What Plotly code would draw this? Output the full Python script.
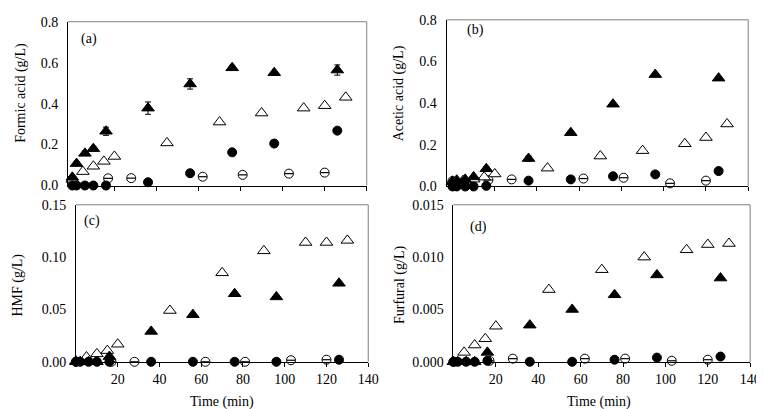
import plotly.graph_objects as go

W, H = 764, 409

# ---- data ----
t_ft = [0, 2, 6, 10, 16, 36, 56, 76, 96, 126]           # filled triangles
t_ot = [0, 5, 10, 15, 20, 45, 70, 90, 110, 120, 130]    # open triangles
t_fc = [0, 2, 6, 10, 16, 36, 56, 76, 96, 126]           # filled circles
t_oc = [0, 17, 28, 62, 81, 103, 120]                    # open circles

formic_ft = [0.04, 0.107, 0.157, 0.18, 0.265, 0.378, 0.496, 0.575, 0.551, 0.564]
formic_ft_err = [0.0, 0.01, 0.01, 0.01, 0.02, 0.03, 0.025, 0.012, 0.006, 0.025]
formic_ot = [0.03, 0.068, 0.094, 0.118, 0.142, 0.208, 0.31, 0.354, 0.378, 0.39, 0.431]
formic_fc = [0.0, 0.0, 0.0, 0.0, 0.0, 0.016, 0.06, 0.162, 0.205, 0.268]
formic_oc = [0.031, 0.035, 0.036, 0.043, 0.052, 0.058, 0.063]

acetic_ft = [0.023, 0.03, 0.034, 0.046, 0.085, 0.134, 0.258, 0.395, 0.537, 0.52]
acetic_ft_err = [0.0, 0.0, 0.0, 0.0, 0.01, 0.012, 0.008, 0.006, 0.006, 0.008]
acetic_ot = [0.025, 0.028, 0.035, 0.045, 0.06, 0.088, 0.146, 0.172, 0.205, 0.235, 0.30]
acetic_fc = [0.0, 0.0, 0.0, 0.0, 0.003, 0.028, 0.034, 0.049, 0.058, 0.074]
acetic_oc = [0.026, 0.031, 0.034, 0.038, 0.042, 0.015, 0.028]

hmf_ft = [0.0, 0.0, 0.0, 0.0, 0.005, 0.029, 0.045, 0.065, 0.062, 0.075]
hmf_ot = [0.0006, 0.0046, 0.0076, 0.0107, 0.0168, 0.049, 0.085, 0.106, 0.114, 0.114, 0.116]
hmf_fc = [0.0, 0.0, 0.0, 0.0, 0.0, 0.0, 0.0, 0.0, 0.0, 0.002]
hmf_oc = [0.0, 0.0, 0.0, 0.0, 0.0, 0.0015, 0.002]

furfural_ft = [0.0, 0.0, 0.0, 0.0, 0.0009, 0.0035, 0.005, 0.0064, 0.0083, 0.008]
furfural_ot = [0.0, 0.0009, 0.0016, 0.0022, 0.0034, 0.0069, 0.0088, 0.0100, 0.0107, 0.0112, 0.0113]
furfural_fc = [0.0, 0.0, 0.0, 0.0, 0.0001, 0.0, 0.0, 0.0002, 0.0004, 0.0005]
furfural_oc = [0.0, 0.0001, 0.0003, 0.0003, 0.0003, 0.0001, 0.0002]

x_ticks = [20, 40, 60, 80, 100, 120, 140]
y_ticks_acid = [0.0, 0.2, 0.4, 0.6, 0.8]
y_ticks_hmf = [0.0, 0.05, 0.10, 0.15]
y_ticks_fur = [0.0, 0.005, 0.010, 0.015]

FONT = "Liberation Serif"

def px(x):
    return x / W

def py(y):
    return 1 - y / H

# panel geometry in pixels: (left, right, top, bottom)
panels = {
    "a": (61, 364, 7, 177),
    "b": (445, 751, 5, 178),
    "c": (69, 365.5, 197, 360),
    "d": (452, 753, 197, 360),
}

fig = go.Figure()

def add_series(xa, ya, xs, ys, symbol, filled, err=None, err_w=3):
    kw = {}
    if err is not None:
        kw["error_y"] = dict(type="data", array=err, visible=True, color="black",
                             thickness=1, width=err_w)
    fig.add_trace(go.Scatter(
        x=xs, y=ys, mode="markers", xaxis=xa, yaxis=ya, showlegend=False,
        cliponaxis=False,
        marker=dict(symbol=symbol, size=11 if "triangle" in symbol else 9,
                    color="black" if filled else "white",
                    line=dict(color="black", width=1)),
        **kw))

def add_bar_marks(xa, ya, xs, ys):
    # small error-bar caps visible inside the open circles
    fig.add_trace(go.Scatter(
        x=xs, y=ys, mode="markers", xaxis=xa, yaxis=ya, showlegend=False,
        cliponaxis=False, hoverinfo="skip",
        marker=dict(symbol="line-ew", size=6, color="black",
                    line=dict(color="black", width=1.2))))

sets = [
    ("x", "y", formic_ft, formic_ft_err, formic_ot, formic_fc, formic_oc),
    ("x2", "y2", acetic_ft, acetic_ft_err, acetic_ot, acetic_fc, acetic_oc),
    ("x3", "y3", hmf_ft, None, hmf_ot, hmf_fc, hmf_oc),
    ("x4", "y4", furfural_ft, None, furfural_ot, furfural_fc, furfural_oc),
]
for xa, ya, ft, fterr, ot, fc, oc in sets:
    add_series(xa, ya, t_oc, oc, "circle", False)
    add_bar_marks(xa, ya, t_oc, oc)
    add_series(xa, ya, t_ot, ot, "triangle-up", False)
    add_series(xa, ya, t_fc, fc, "circle", True)
    add_series(xa, ya, t_ft, ft, "triangle-up", True, err=fterr, err_w=3)

def xaxis(key, labels, rng, anchor):
    l, r, t, b = panels[key]
    return dict(domain=[px(l), px(r)], range=rng, tickvals=x_ticks, anchor=anchor,
                showticklabels=labels, ticks="outside", ticklen=4, tickwidth=1,
                tickcolor="black", showline=True, linecolor="black", linewidth=1,
                showgrid=False, zeroline=False,
                tickfont=dict(family=FONT, size=14, color="black"))

def yaxis(key, anchor, vals, text, rng):
    l, r, t, b = panels[key]
    return dict(domain=[py(b), py(t)], range=rng, tickvals=vals, ticktext=text,
                anchor=anchor, ticks="", showline=True, linecolor="black", linewidth=1,
                showgrid=False, zeroline=False, ticklabelstandoff=6,
                tickfont=dict(family=FONT, size=14, color="black"))

fig.update_layout(
    width=W, height=H, margin=dict(l=0, r=0, t=0, b=0),
    plot_bgcolor="white", paper_bgcolor="white",
    xaxis=xaxis("a", False, [-2, 140], "y"),
    yaxis=yaxis("a", "x", y_ticks_acid, ["0.0", "0.2", "0.4", "0.6", "0.8"], [0, 0.8]),
    xaxis2=xaxis("b", False, [-2.8, 140], "y2"),
    yaxis2=yaxis("b", "x2", y_ticks_acid, ["0.0", "0.2", "0.4", "0.6", "0.8"], [0, 0.8]),
    xaxis3=xaxis("c", True, [0, 140], "y3"),
    yaxis3=yaxis("c", "x3", y_ticks_hmf, ["0.00", "0.05", "0.10", "0.15"], [0, 0.15]),
    xaxis4=xaxis("d", True, [0, 140], "y4"),
    yaxis4=yaxis("d", "x4", y_ticks_fur, ["0.000", "0.005", "0.010", "0.015"], [0, 0.015]),
)

# gray top/right frame lines
for key in panels:
    l, r, t, b = panels[key]
    fig.add_shape(type="line", xref="paper", yref="paper", x0=px(l), x1=px(r),
                  y0=py(t), y1=py(t), line=dict(color="#7f7f7f", width=1))
    fig.add_shape(type="line", xref="paper", yref="paper", x0=px(r), x1=px(r),
                  y0=py(t), y1=py(b), line=dict(color="#7f7f7f", width=1))

def ann(text, x, y, angle=0, size=14):
    fig.add_annotation(text=text, x=px(x), y=py(y), xref="paper", yref="paper",
                       showarrow=False, textangle=angle,
                       font=dict(family=FONT, size=size, color="black"),
                       xanchor="center", yanchor="middle")

ann("(a)", 82, 25)
ann("(b)", 474, 16)
ann("(c)", 85, 214)
ann("(d)", 477, 220)
ann("Formic acid (g/L)", 13, 81, -90)
ann("Acetic acid (g/L)", 397, 81, -90)
ann("HMF (g/L)", 10, 280, -90)
ann("Furfural (g/L)", 397, 280, -90)
ann("Time (min)", 217, 402)
ann("Time (min)", 600, 402)

fig.write_html("out.html")
